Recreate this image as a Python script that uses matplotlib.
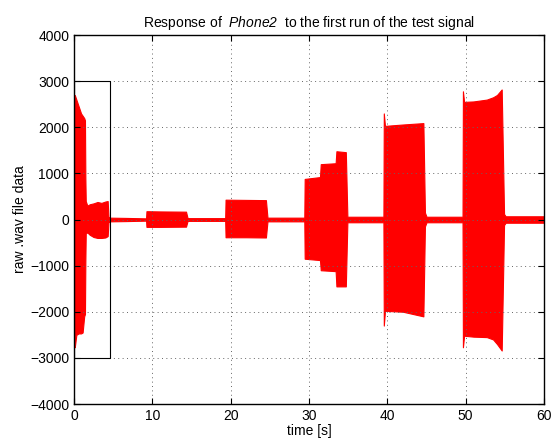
import matplotlib
matplotlib.use("Agg")
import matplotlib.pyplot as plt
from matplotlib.ticker import MultipleLocator

plt.rcParams['font.family'] = ['Liberation Sans', 'DejaVu Sans']
# mathtext only used for the italic phone name (digit included)
plt.rcParams['mathtext.fontset'] = 'custom'
plt.rcParams['mathtext.rm'] = 'Liberation Sans:italic'
plt.rcParams['mathtext.it'] = 'Liberation Sans:italic'

t_env = [0.0, 0.1, 0.3, 0.6, 0.9, 1.1, 1.3, 1.4, 1.45, 1.5, 1.7, 2.0, 2.5, 3.0, 3.5,
         4.0, 4.3, 4.4, 4.6, 6.5, 9.2, 9.25, 11.0, 14.3, 14.5, 19.3, 19.35, 22.0,
         24.5, 24.7, 29.4, 29.45, 31.4, 31.5, 33.4, 33.5, 34.7, 34.9, 39.5, 39.55,
         39.7, 42.0, 44.6, 44.8, 45.0, 49.6, 49.65, 49.8, 51.0, 52.7, 53.5, 54.0,
         54.6, 54.9, 55.1, 60.0]
upper = [2650, 2700, 2600, 2450, 2300, 2250, 2200, 2150, 900, 400, 300, 330, 350, 380, 360,
         390, 400, 60, 40, 35, 25, 180, 175, 170, 30, 30, 430, 425,
         420, 40, 40, 880, 920, 1200, 1220, 1480, 1460, 60, 60, 2300,
         2030, 2060, 2090, 150, 60, 60, 2780, 2550, 2560, 2600, 2650, 2700,
         2820, 120, 70, 70]
lower = [-2750, -2770, -2500, -2470, -2470, -2450, -2100, -2050, -900, -300, -280, -330, -380, -400, -400,
         -390, -360, -60, -40, -35, -25, -160, -160, -155, -30, -30, -385, -385,
         -390, -40, -40, -850, -880, -1100, -1120, -1450, -1450, -60, -60, -2300,
         -1980, -2000, -2100, -150, -60, -60, -2770, -2520, -2540, -2550, -2600, -2700,
         -2840, -120, -70, -70]

# zoom box drawn around the start of the recording
box_t = [0.0, 4.6]
box_y = [-3000, 3000]

fig = plt.figure(figsize=(5.51, 4.41), dpi=100)
ax = fig.add_axes([0.1343, 0.0839, 0.853, 0.8367])

ax.fill_between(t_env, lower, upper, color='#ff0000', lw=0.8, edgecolor='#ff0000')
ax.plot([box_t[0], box_t[1], box_t[1], box_t[0], box_t[0]],
        [box_y[0], box_y[0], box_y[1], box_y[1], box_y[0]], color='black', lw=0.8)

ax.set_xlim(0, 60)
ax.set_ylim(-4000, 4000)
ax.xaxis.set_major_locator(MultipleLocator(10))
ax.yaxis.set_major_locator(MultipleLocator(1000))
ax.tick_params(direction='in', top=True, right=True, labelsize=10, length=4)
ax.grid(True, color='0.4', linestyle=(0, (1, 3.5)), lw=0.7)
for s in ax.spines.values():
    s.set_linewidth(1.0)

ax.set_xlabel('time [s]', fontsize=10, labelpad=1)
ax.set_ylabel('raw .wav file data', fontsize=10, labelpad=2)
ax.set_title('Response of  $\\mathrm{Phone2}$  to the first run of the test signal',
             fontsize=10, pad=6)

fig.savefig('out.png', dpi=100)
